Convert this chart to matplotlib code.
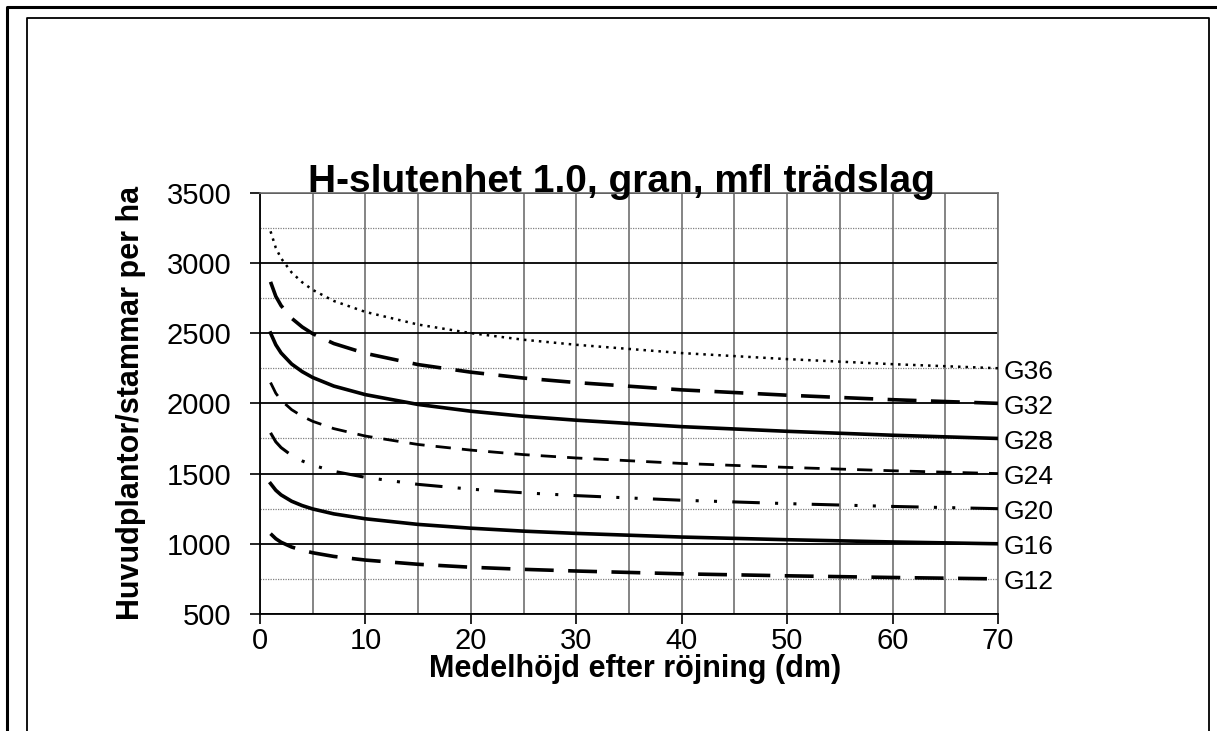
import matplotlib
matplotlib.use("Agg")
import matplotlib.pyplot as plt
from matplotlib.ticker import MultipleLocator
from matplotlib.lines import Line2D

plt.rcParams['font.family'] = ['Liberation Sans', 'DejaVu Sans']

# ---- data ----
x = [1, 1.5, 2, 3, 4, 5, 7, 10, 15, 20, 25, 30, 40, 50, 60, 70]
G36 = [3225, 3107, 3033, 2932, 2862, 2808, 2729, 2651, 2561, 2500, 2453, 2417, 2358, 2315, 2279, 2250]
G32 = [2865, 2762, 2696, 2606, 2544, 2496, 2426, 2356, 2276, 2222, 2180, 2148, 2096, 2058, 2026, 2000]
G28 = [2501, 2417, 2359, 2280, 2226, 2184, 2123, 2062, 1992, 1944, 1908, 1880, 1834, 1801, 1773, 1750]
G24 = [2148, 2072, 2022, 1955, 1908, 1872, 1820, 1767, 1707, 1667, 1635, 1611, 1572, 1544, 1520, 1500]
G20 = [1790, 1726, 1685, 1629, 1590, 1560, 1516, 1473, 1423, 1389, 1363, 1343, 1310, 1286, 1266, 1250]
G16 = [1429, 1381, 1348, 1303, 1272, 1248, 1213, 1178, 1138, 1111, 1090, 1074, 1048, 1029, 1013, 1000]
G12 = [1072, 1036, 1011, 977, 954, 936, 910, 884, 854, 833, 818, 806, 786, 772, 760, 750]
series_names = ["G36", "G32", "G28", "G24", "G20", "G16", "G12"]
series_vals = [G36, G32, G28, G24, G20, G16, G12]

title = "H-slutenhet 1.0, gran, mfl trädslag"
xlabel = "Medelhöjd efter röjning (dm)"
ylabel = "Huvudplantor/stammar per ha"

W, H = 1217, 731
fig = plt.figure(figsize=(W / 100, H / 100), dpi=100)

ax = fig.add_axes([260 / W, 1 - 614 / H, (998 - 260) / W, (614 - 192.7) / H])

styles = [
    dict(lw=1.8, linestyle=(0, (1, 2.0))),
    dict(lw=2.6, linestyle=(0, (8, 4))),
    dict(lw=2.6, linestyle='-'),
    dict(lw=2.0, linestyle=(0, (5.5, 4))),
    dict(lw=2.2, linestyle=(0, (9, 5, 1, 5, 1, 5))),
    dict(lw=2.6, linestyle='-'),
    dict(lw=2.6, linestyle=(0, (8, 4))),
]

for name, vals, st in zip(series_names, series_vals, styles):
    ax.plot(x, vals, color='black', dash_capstyle='butt', zorder=3, **st)
    ax.annotate(name, xy=(x[-1], vals[-1]), xytext=(4, -2.5), textcoords='offset points',
                ha='left', va='center', fontsize=19, annotation_clip=False)

ax.set_xlim(0, 70)
ax.set_ylim(500, 3500)
ax.xaxis.set_major_locator(MultipleLocator(10))
ax.xaxis.set_minor_locator(MultipleLocator(5))
ax.yaxis.set_major_locator(MultipleLocator(500))
ax.yaxis.set_minor_locator(MultipleLocator(250))

ax.grid(which='major', axis='y', color='black', lw=1.3, zorder=1)
ax.grid(which='minor', axis='y', color='#808080', lw=0.9, linestyle=(0, (1, 1)), zorder=1)
ax.grid(which='both', axis='x', color='#707070', lw=1.2, zorder=1)

ax.tick_params(which='major', direction='out', length=7.5, width=1.2, labelsize=21, color='black')
ax.tick_params(axis='y', which='major', pad=13)
ax.tick_params(axis='x', which='major', pad=2)
ax.tick_params(which='minor', length=0)

for s in ['left', 'bottom']:
    ax.spines[s].set_color('black')
    ax.spines[s].set_linewidth(1.3)
for s in ['top', 'right']:
    ax.spines[s].set_color('#707070')
    ax.spines[s].set_linewidth(1.2)

fig.text(635 / W, 1 - 669 / H, xlabel, ha='center', va='center', fontsize=22, fontweight='bold')
fig.text(131 / W, 1 - 403 / H, ylabel, ha='center', va='center', rotation=90,
         fontsize=22, fontweight='bold')
fig.text(621 / W, 1 - 182 / H, title, ha='center', va='center', fontsize=28, fontweight='bold')

# frames
def fline(xs, ys, **kw):
    fig.add_artist(Line2D([v / W for v in xs], [1 - v / H for v in ys], transform=fig.transFigure, **kw))

fline([7, 7, W + 5], [H + 5, 6.5, 6.5], color='black', lw=2.2)
fline([27, 27, 1209, 1209], [H + 5, 17.5, 17.5, H + 5], color='black', lw=1.3)

fig.savefig("out.png", dpi=100)
